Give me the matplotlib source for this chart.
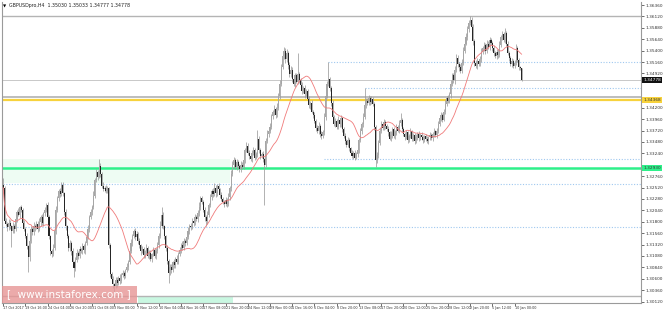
import matplotlib
matplotlib.use("Agg")
import matplotlib.pyplot as plt
import matplotlib.transforms as mtransforms
from matplotlib.patches import Rectangle
import numpy as np
import pandas as pd

# GBPUSD H4, prices stored as pips above 1.3000
BASE = 1.3
FIRST_OPEN = 257
closes = [
    252, 182, 175, 168, 178, 170, 160, 172, 165, 185, 200, 195, 210, 205, 178, 165,
    150, 128, 105, 140, 165, 158, 172, 168, 176, 165, 180, 190, 178, 198, 205, 215,
    190, 150, 118, 112, 125, 160, 205, 230, 245, 238, 258, 240, 200, 170, 150, 125,
    135, 118, 95, 82, 100, 115, 108, 122, 118, 128, 120, 135, 148, 165, 190, 200,
    210, 235, 268, 285, 275, 298, 280, 255, 248, 252, 245, 250, 130, 70, 60, 48,
    45, 58, 50, 62, 55, 68, 72, 66, 78, 85, 95, 118, 135, 150, 160, 148,
    155, 140, 130, 118, 122, 110, 118, 125, 108, 115, 102, 112, 120, 108, 118, 130,
    150, 172, 195, 170, 150, 125, 98, 72, 85, 78, 95, 88, 102, 96, 112, 120,
    132, 125, 140, 135, 148, 160, 172, 168, 182, 178, 190, 185, 198, 212, 230, 222,
    205, 190, 182, 195, 215, 232, 245, 238, 252, 240, 255, 248, 236, 228, 222, 218,
    225, 218, 232, 250, 280, 300, 310, 295, 305, 298, 290, 300, 295, 310, 330, 340,
    325, 318, 312, 325, 330, 315, 322, 355, 330, 318, 322, 312, 300, 350, 365, 372,
    380, 402, 410, 418, 405, 420, 445, 470, 505, 528, 540, 522, 535, 510, 490, 500,
    480, 470, 488, 475, 490, 478, 468, 455, 462, 448, 455, 438, 425, 430, 412, 405,
    392, 378, 370, 382, 365, 360, 368, 400, 445, 470, 480, 462, 430, 400, 385, 392,
    380, 395, 385, 398, 375, 360, 350, 342, 352, 335, 325, 318, 325, 315, 322, 330,
    352, 370, 385, 400, 425, 435, 430, 440, 432, 438, 428, 380, 310, 320, 345, 372,
    385, 378, 390, 382, 375, 368, 355, 362, 375, 360, 368, 380, 372, 388, 395, 375,
    365, 358, 368, 352, 360, 370, 355, 362, 350, 358, 365, 356, 362, 358, 352, 360,
    355, 350, 358, 362, 356, 364, 370, 362, 372, 385, 398, 405, 395, 412, 428, 440,
    435, 448, 470, 488, 478, 500, 525, 512, 505, 498, 515, 540, 555, 568, 585, 598,
    605, 590, 560, 515, 508, 518, 512, 522, 538, 545, 552, 540, 555, 548, 562, 556,
    545, 535, 528, 538, 530, 552, 568, 575, 562, 578, 555, 535, 525, 512, 518, 508,
    515, 545, 520, 505, 503, 478,
]
# wick lengths (pips) above / below the body
wick_up = [
    15, 3, 6, 4, 8, 5, 3, 7, 4, 6, 5, 9, 4, 6, 3, 5,
    4, 6, 3, 9, 5, 4, 7, 3, 6, 5, 8, 4, 6, 3, 7, 5,
    6, 4, 3, 5, 8, 6, 9, 5, 4, 7, 6, 5, 3, 6, 4, 5,
    7, 4, 6, 3, 5, 8, 4, 6, 3, 7, 5, 4, 6, 8, 5, 7,
    6, 9, 5, 7, 4, 14, 6, 5, 8, 4, 6, 5, 3, 6, 4, 5,
    4, 6, 5, 3, 7, 4, 6, 5, 3, 8, 4, 6, 9, 5, 4, 7,
    5, 3, 6, 4, 7, 5, 3, 8, 4, 6, 5, 3, 7, 4, 6, 8,
    6, 9, 16, 5, 4, 3, 6, 4, 7, 5, 3, 6, 4, 8, 5, 6,
    4, 7, 5, 3, 6, 8, 4, 6, 5, 3, 7, 4, 6, 9, 5, 4,
    3, 6, 4, 8, 5, 7, 4, 6, 9, 5, 4, 6, 3, 7, 5, 4,
    6, 4, 8, 5, 9, 7, 6, 4, 8, 5, 3, 7, 6, 9, 5, 8,
    5, 7, 4, 6, 8, 5, 4, 18, 6, 5, 4, 7, 3, 6, 8, 5,
    7, 5, 6, 8, 4, 9, 6, 8, 7, 6, 8, 5, 9, 4, 6, 7,
    5, 8, 6, 4, 45, 6, 5, 7, 4, 6, 5, 4, 7, 5, 6, 4,
    6, 4, 5, 7, 3, 6, 5, 8, 9, 7, 36, 5, 4, 6, 5, 7,
    5, 8, 4, 6, 3, 5, 7, 4, 6, 5, 3, 6, 4, 7, 5, 6,
    4, 7, 5, 8, 36, 6, 5, 7, 4, 6, 5, 3, 4, 6, 8, 5,
    6, 4, 7, 5, 3, 6, 4, 8, 5, 4, 6, 5, 3, 7, 14, 4,
    5, 3, 6, 4, 5, 7, 3, 5, 4, 6, 3, 5, 4, 6, 5, 3,
    4, 5, 3, 6, 4, 5, 7, 4, 6, 8, 5, 7, 4, 6, 8, 5,
    7, 5, 9, 6, 5, 8, 7, 5, 4, 6, 8, 7, 5, 9, 6, 7,
    8, 5, 6, 4, 5, 7, 4, 6, 8, 5, 6, 4, 7, 5, 6, 4,
    5, 7, 4, 6, 5, 8, 6, 7, 5, 9, 4, 6, 5, 4, 6, 5,
    6, 9, 5, 4, 3, 0,
]
wick_dn = [
    6, 5, 4, 7, 5, 6, 33, 4, 8, 5, 6, 4, 7, 5, 6, 4,
    5, 6, 31, 8, 4, 6, 5, 7, 4, 6, 5, 8, 4, 6, 5, 4,
    5, 7, 8, 6, 4, 5, 6, 4, 7, 5, 4, 6, 5, 7, 4, 6,
    6, 8, 5, 18, 6, 4, 7, 5, 4, 6, 5, 7, 4, 5, 6, 4,
    5, 4, 6, 5, 7, 4, 6, 5, 4, 6, 5, 4, 5, 7, 6, 8,
    15, 5, 7, 4, 6, 5, 4, 7, 5, 4, 6, 5, 4, 6, 5, 7,
    4, 6, 5, 8, 4, 6, 7, 5, 4, 6, 5, 7, 4, 5, 6, 4,
    5, 4, 6, 5, 7, 6, 8, 21, 5, 7, 4, 6, 5, 4, 6, 5,
    6, 5, 4, 7, 5, 4, 6, 5, 4, 6, 5, 4, 6, 5, 7, 4,
    5, 8, 12, 6, 5, 4, 6, 5, 4, 7, 5, 4, 6, 5, 4, 6,
    5, 7, 4, 6, 5, 4, 6, 5, 7, 4, 6, 5, 4, 5, 6, 4,
    5, 6, 4, 7, 5, 6, 4, 5, 6, 5, 4, 6, 85, 5, 4, 6,
    5, 4, 6, 5, 7, 4, 5, 6, 5, 4, 6, 7, 5, 8, 6, 5,
    6, 5, 7, 4, 6, 5, 4, 6, 5, 7, 4, 6, 5, 7, 4, 6,
    5, 6, 4, 5, 7, 6, 4, 5, 6, 4, 5, 7, 6, 5, 4, 6,
    5, 4, 6, 5, 7, 4, 6, 5, 4, 6, 5, 4, 6, 5, 4, 6,
    5, 4, 6, 5, 4, 6, 5, 4, 6, 5, 4, 7, 15, 6, 5, 4,
    6, 5, 4, 6, 5, 7, 4, 5, 6, 4, 5, 6, 4, 5, 6, 7,
    5, 6, 4, 7, 5, 4, 6, 5, 7, 4, 5, 6, 4, 5, 6, 4,
    5, 4, 6, 5, 4, 6, 5, 4, 6, 5, 4, 6, 5, 4, 6, 5,
    6, 5, 7, 4, 6, 8, 5, 6, 7, 5, 4, 6, 5, 4, 6, 5,
    4, 6, 8, 7, 5, 6, 4, 5, 6, 4, 5, 6, 4, 5, 6, 4,
    5, 6, 4, 5, 6, 4, 5, 6, 4, 5, 6, 4, 7, 5, 6, 4,
    5, 6, 4, 5, 4, 1,
]

time_labels = [
    "17 Oct 2017", "19 Oct 16:00", "24 Oct 04:00", "26 Oct 20:00", "31 Oct 08:00",
    "3 Nov 00:00", "7 Nov 12:00", "10 Nov 04:00", "14 Nov 16:00", "17 Nov 08:00",
    "21 Nov 20:00", "24 Nov 12:00", "29 Nov 00:00", "1 Dec 16:00", "6 Dec 04:00",
    "8 Dec 20:00", "13 Dec 08:00", "17 Dec 20:00", "20 Dec 12:00", "25 Dec 20:00",
    "28 Dec 12:00", "2 Jan 20:00", "5 Jan 12:00", "10 Jan 00:00",
]
label_step = 16

price_ticks = [1.3636, 1.3612, 1.3588, 1.3564, 1.3540, 1.3516, 1.3492, 1.3468, 1.3444,
               1.3420, 1.3396, 1.3372, 1.3348, 1.3324, 1.3300, 1.3276, 1.3252, 1.3228,
               1.3204, 1.3180, 1.3156, 1.3132, 1.3108, 1.3084, 1.3060, 1.3036, 1.3012]

title = "GBPUSDpro,H4  1.35030 1.35033 1.34777 1.34778"
last_price = 1.34778
yellow_level = 1.34368
yellow_shadow = 1.34415
green_level = 1.32930
high_level = 1.36130
low_level = 1.30236
# dotted levels: (price, first bar)
dotted_levels = [(1.35170, 234), (1.34615, 260), (1.33120, 231), (1.32594, 0), (1.31689, 0)]
support_zone = (1.32610, 1.33120, 163)   # low, high, last bar
ma_period = 21

NARROW = ["Liberation Sans Narrow", "DejaVu Sans"]

c = BASE + np.array(closes) / 10000
o = np.concatenate([[BASE + FIRST_OPEN / 10000], c[:-1]])
top = np.maximum(o, c)
bot = np.minimum(o, c)
hi = top + np.array(wick_up) / 10000
lo = bot - np.array(wick_dn) / 10000
idx = np.arange(len(c))
ma = pd.Series(c).rolling(ma_period, min_periods=1).mean()

W, H = 665, 310
fig = plt.figure(figsize=(W / 100, H / 100), dpi=100)
ax = fig.add_axes([2 / W, 7 / H, 639 / W, 301 / H])
ax.set_xlim(-0.8, 458.9)
ax.set_ylim(1.30089, 1.36425)

# zones
ax.add_patch(Rectangle((-0.8, support_zone[0]), support_zone[2] + 0.8,
                       support_zone[1] - support_zone[0], color="#eefcf3", lw=0, zorder=0))
ax.add_patch(Rectangle((97, 1.30089), 68.5, 1.30215 - 1.30089, color="#c9f7e1", lw=0, zorder=0))

# horizontal levels
ax.axhline(high_level, color="#b4b4b4", lw=1.0, zorder=1)
ax.axhline(last_price, color="#c8c8c8", lw=0.7, zorder=1)
ax.axhline(low_level, color="#b4b4b4", lw=1.0, zorder=1)
for price, start in dotted_levels:
    ax.hlines(price, start, 458.9, colors="#9fc8ef", linestyles=(0, (1, 1.5)), lw=0.8, zorder=1)
ax.axhline(yellow_shadow, color="#bdbdbd", lw=1.4, zorder=2)
ax.axhline(yellow_level, color="#f7d23c", lw=1.6, zorder=2)
ax.axhline(green_level, color="#2ef08a", lw=1.8, zorder=2)

# candles
up = c >= o
ax.vlines(idx, lo, hi, colors="#9c9c9c", lw=0.55, zorder=3)
ax.bar(idx[up], (top - bot)[up], bottom=bot[up], width=0.75, color="#a6a6a6", lw=0, zorder=4)
ax.bar(idx[~up], (top - bot)[~up], bottom=bot[~up], width=0.75, color="#262626", lw=0, zorder=4)
ax.plot(idx, ma, color="#f07a7a", lw=0.6, zorder=5)

# axes styling
ax.spines["top"].set_visible(False)
for side in ("left", "right", "bottom"):
    ax.spines[side].set_color("#9a9a9a")
    ax.spines[side].set_linewidth(0.8)

tags = [(last_price, "#111111", "white"), (yellow_level, "#f7d23c", "#333333"),
        (green_level, "#2ef08a", "#333333")]
shown_ticks = [p for p in price_ticks if all(abs(p - t[0]) > 0.0011 for t in tags)]
ax.yaxis.tick_right()
ax.set_yticks(shown_ticks)
ax.set_yticklabels([f"{p:.5f}" for p in shown_ticks])
ax.tick_params(axis="y", labelsize=3.1, colors="#333333", length=2, width=0.5, pad=1)
ax.set_xticks(idx[::label_step][:len(time_labels)])
ax.set_xticklabels(time_labels, ha="left", family=NARROW)
ax.tick_params(axis="x", labelsize=2.4, colors="#333333", length=2, width=0.5, pad=0.5)

# price tags on the scale
tag_tf = mtransforms.blended_transform_factory(ax.transAxes, ax.transData)
for price, face, fg in tags:
    ax.text(1.004, price, f"{price:.5f}", transform=tag_tf, fontsize=3.1, color=fg,
            va="center", ha="left", zorder=10,
            bbox=dict(boxstyle="square,pad=0.25", fc=face, ec="none"))

fig.text(3 / W, 1 - 6 / H, "\u25BC", fontsize=3, color="black", va="center")
fig.text(9 / W, 1 - 6 / H, title, fontsize=3.4, color="#222222", va="center")

# watermark
fig.add_artist(Rectangle((2 / W, 7 / H), 135 / W, 17 / H, transform=fig.transFigure,
                         color="#e69595", alpha=0.8, lw=0, zorder=20))
fig.text(69 / W, 15.5 / H, "[  www.instaforex.com ]", fontsize=7.5, color="white",
         ha="center", va="center", zorder=21)

fig.savefig("out.png", dpi=100)
